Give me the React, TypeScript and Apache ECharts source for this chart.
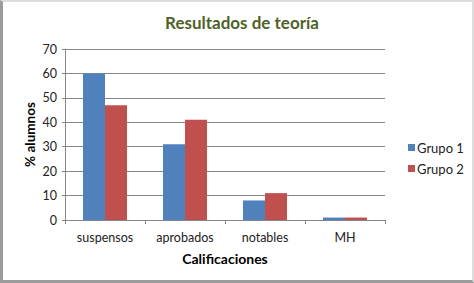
import React, { useEffect, useRef } from "react";
import * as echarts from "echarts";

const categories = ["suspensos", "aprobados", "notables", "MH"];
const grupo1 = [60, 31, 8, 1];
const grupo2 = [47, 41, 11, 1];
const seriesNames = ["Grupo 1", "Grupo 2"];
const FONT = "Lato, 'Open Sans', sans-serif";

export default function App() {
  const ref = useRef<HTMLDivElement>(null);
  useEffect(() => {
    if (!ref.current) return;
    const chart = echarts.init(ref.current, null, { renderer: "svg" });
    chart.setOption({
      animation: false,
      backgroundColor: "#ffffff",
      title: {
        text: "Resultados de teoría",
        left: 237,
        top: 9,
        textAlign: "center",
        textStyle: { color: "#4f6228", fontSize: 17, fontWeight: "bold", fontFamily: FONT },
      },
      legend: {
        orient: "vertical",
        left: 403,
        top: 136,
        itemWidth: 7,
        itemHeight: 7,
        itemGap: 8,
        icon: "rect",
        textStyle: { color: "#222", fontSize: 13, fontFamily: FONT, padding: [0, 0, 0, -3] },
        data: seriesNames,
      },
      grid: { left: 65, top: 49, width: 320, height: 171, containLabel: false },
      xAxis: {
        type: "category",
        data: categories,
        name: "Calificaciones",
        nameLocation: "middle",
        nameGap: 31,
        nameTextStyle: { color: "#000", fontSize: 14, fontWeight: "bold", fontFamily: FONT },
        axisLine: { lineStyle: { color: "#868686" } },
        axisTick: { show: true, length: 4, lineStyle: { color: "#868686" } },
        axisLabel: { color: "#222", fontSize: 12.5, fontFamily: FONT, margin: 11 },
      },
      yAxis: {
        type: "value",
        min: 0,
        max: 70,
        interval: 10,
        name: "% alumnos",
        nameLocation: "middle",
        nameGap: 28,
        nameMoveOverlap: false,
        nameTextStyle: { color: "#000", fontSize: 13.5, fontWeight: "bold", fontFamily: FONT },
        axisLine: { show: true, lineStyle: { color: "#868686" } },
        axisTick: { show: true, length: 3, lineStyle: { color: "#868686" } },
        axisLabel: { color: "#222", fontSize: 12.5, fontFamily: FONT, margin: 8 },
        splitLine: { lineStyle: { color: "#868686" } },
      },
      series: [
        {
          name: seriesNames[0],
          type: "bar",
          data: grupo1,
          barWidth: 22,
          barGap: "0%",
          itemStyle: { color: "#4f81bd" },
        },
        {
          name: seriesNames[1],
          type: "bar",
          data: grupo2,
          barWidth: 22,
          barGap: "0%",
          itemStyle: { color: "#c0504d" },
        },
      ],
    });
    return () => chart.dispose();
  }, []);
  return (
    <div style={{ position: "fixed", left: 0, top: 0, width: 474, height: 283 }}>
      <div ref={ref} style={{ position: "absolute", left: 0, top: 0, width: 474, height: 283 }} />
      <div
        style={{
          position: "absolute",
          left: 0,
          top: 0,
          width: 474,
          height: 283,
          boxSizing: "border-box",
          borderLeft: "3px solid #9c9c9c",
          borderBottom: "3px solid #9c9c9c",
          borderTop: "2px solid #dcdcdc",
          borderRight: "2px solid #dcdcdc",
          pointerEvents: "none",
        }}
      />
    </div>
  );
}
